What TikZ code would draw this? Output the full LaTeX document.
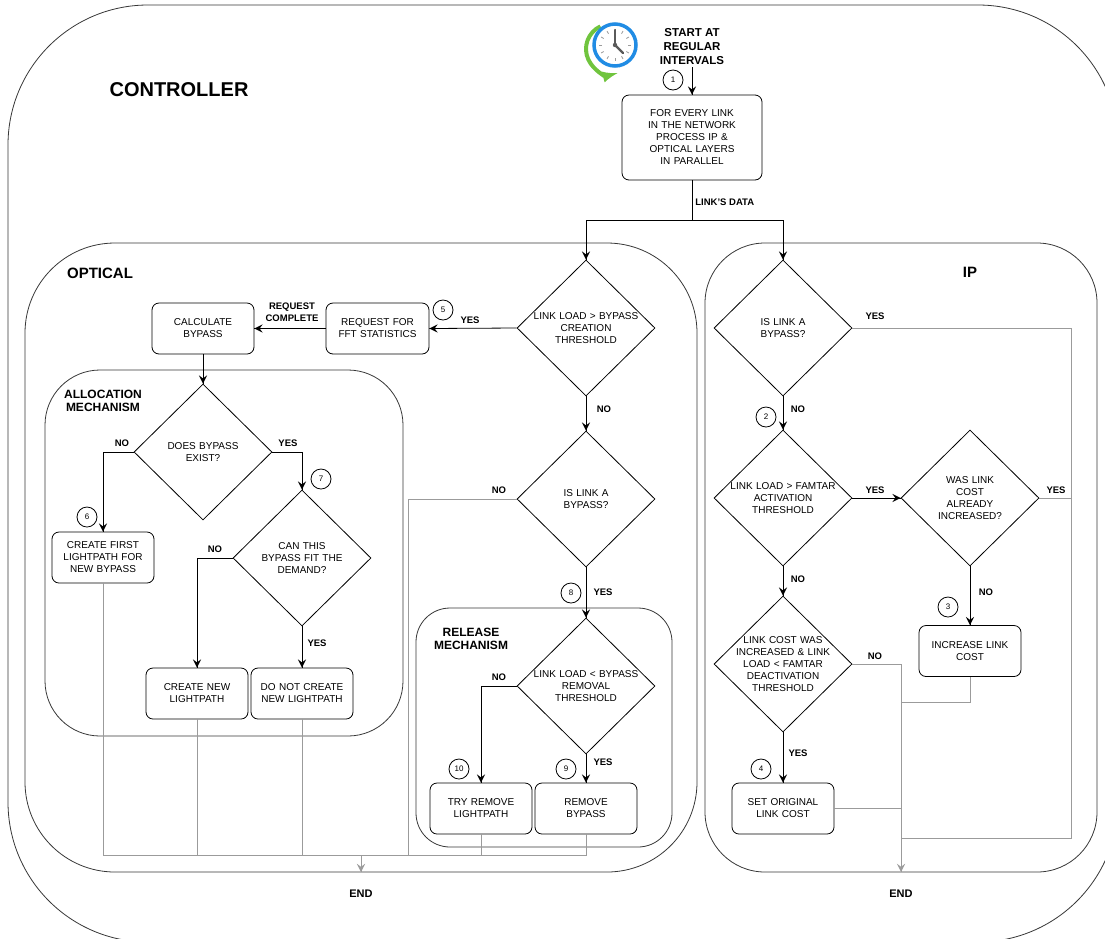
\documentclass[tikz,border=0pt]{standalone}
\usepackage{fontspec}
\setmainfont{Liberation Sans}
\usepackage{tikz}
\usetikzlibrary{arrows,decorations.markings,shapes.geometric}
\definecolor{endgray}{RGB}{155,155,155}
\definecolor{framegray}{RGB}{55,55,55}
\definecolor{clockblue}{RGB}{33,140,228}
\definecolor{clockgreen}{RGB}{112,196,62}
\definecolor{handgray}{RGB}{90,90,90}
\tikzstyle{proc} = [rectangle, rounded corners=7, minimum width=102, minimum height=51, text width=100, inner sep=0, align=center, draw=black, fill=white, font=\fontsize{10}{12}\selectfont]
\tikzstyle{decision} = [diamond, minimum width=138, minimum height=136, text width=106, inner sep=-12, align=center, draw=black, fill=white, font=\fontsize{10}{12}\selectfont]
\tikzstyle{numc} = [circle, minimum size=20, inner sep=0, draw=black, fill=white, font=\fontsize{8}{9}\selectfont]
\tikzstyle{lbl} = [inner sep=0, align=center, font=\bfseries\fontsize{9.5}{12}\selectfont]
\tikzstyle{grouptitle} = [inner sep=0, align=center, font=\bfseries\fontsize{15}{18}\selectfont]
\tikzstyle{subtitle} = [inner sep=0, align=center, font=\bfseries\fontsize{12}{13}\selectfont]
\tikzstyle{grpframe} = [draw=framegray, line width=0.8]
\tikzstyle{endline} = [color=endgray, line width=0.8]

\begin{document}
\begin{tikzpicture}[x=1pt, y=-1pt, line width=0.8pt, node distance=105]
    \tikzset{myptr/.style={decoration={markings,mark=at position 1 with %
    {\arrow[scale=2,>=stealth]{>}}},postaction={decorate}}}
    \tikzset{endptr/.style={endline, myptr}}
    \clip (0,0) rectangle (1105,938);

    % controller
    \draw[grpframe, rounded corners=140] (8,5) rectangle (1118,942);
    \node[grouptitle, font=\bfseries\fontsize{20}{24}\selectfont] (controller) at (179,90) {CONTROLLER};

    % clock
    \coordinate (clk) at (615,45);
    \draw[clockgreen, line width=4, -latex] (611,49) ++(-115:25) arc[start angle=-115, end angle=-285, radius=25];
    \draw[clockblue, line width=3.5, fill=white] (clk) circle (21);
    \foreach \a in {0,30,...,330}
        \draw[handgray!60, line width=0.8] (clk) ++(\a:13) -- ++(\a:3);
    \draw[handgray, line width=2.2, line cap=round] (clk) -- ++(0,-15);
    \draw[handgray, line width=2.2, line cap=round] (clk) -- ++(8,8);
    \fill[handgray] (clk) circle (2.2);

    \node[lbl, font=\bfseries\fontsize{11.5}{14}\selectfont, inner sep=2] (start) at (692,47) {START AT\\REGULAR\\INTERVALS};
    \node (every) [proc, minimum width=140, minimum height=85, text width=130] at (692,137.5) {FOR EVERY LINK\\IN THE NETWORK\\PROCESS IP \&\\OPTICAL LAYERS\\IN PARALLEL};
    \coordinate (split) at (692,220);
    \node[lbl, anchor=west] (linkdata) at (695,202) {LINK'S DATA};

    % optical
    \draw[grpframe, rounded corners=90] (25,243) rectangle (697,872);
    \node[grouptitle] (optical) at (100,273) {OPTICAL};
    \draw[grpframe, rounded corners=55] (45,370) rectangle (403,736);
    \node[subtitle] (alloc) at (103,401) {ALLOCATION\\MECHANISM};
    \draw[grpframe, rounded corners=34] (416,608) rectangle (672,847);
    \node[subtitle] (release) at (471,639) {RELEASE\\MECHANISM};

    \node (bycreate) [decision] at (586,328) {LINK LOAD > BYPASS\\CREATION\\THRESHOLD};
    \node (fftreq) [proc, minimum width=103] at (377.5,328.5) {REQUEST FOR\\FFT STATISTICS};
    \node (calcbyp) [proc] at (203,328.5) {CALCULATE\\BYPASS};
    \node (byexist) [decision] at (203,452) {DOES BYPASS\\EXIST?};
    \node (firstlp) [proc] at (103,557.5) {CREATE FIRST\\LIGHTPATH FOR\\NEW BYPASS};
    \node (canfit) [decision] at (302,558) {CAN THIS\\BYPASS FIT THE\\DEMAND?};
    \node (newlp) [proc] at (197,693.5) {CREATE NEW\\LIGHTPATH};
    \node (nonewlp) [proc, right of=newlp] {DO NOT CREATE\\NEW LIGHTPATH};
    \node (isbyp) [decision] at (586,499) {IS LINK A\\BYPASS?};
    \node (byremove) [decision] at (586,686) {LINK LOAD < BYPASS\\REMOVAL\\THRESHOLD};
    \node (trylp) [proc] at (481,808.5) {TRY REMOVE\\LIGHTPATH};
    \node (rmbyp) [proc, right of=trylp] {REMOVE\\BYPASS};

    \coordinate (optjoin) at (408,855);
    \coordinate (optbus) at (361,855);
    \coordinate (optend) at (361,872);
    \node[lbl, font=\bfseries\fontsize{11}{13}\selectfont] (optendlbl) at (361,894) {END};

    % ip
    \draw[grpframe, rounded corners=60] (705,243) rectangle (1097,872);
    \node[grouptitle] (ip) at (970,272) {IP};

    \node (ipbyp) [decision] at (783,328) {IS LINK A\\BYPASS?};
    \node (famact) [decision] at (783,498) {LINK LOAD > FAMTAR\\ACTIVATION\\THRESHOLD};
    \node (wascost) [decision] at (970,498) {WAS LINK\\COST\\ALREADY\\INCREASED?};
    \node (inccost) [proc] at (970,651) {INCREASE LINK\\COST};
    \node (famdeact) [decision] at (783,664) {LINK COST WAS\\INCREASED \& LINK\\LOAD < FAMTAR\\DEACTIVATION\\THRESHOLD};
    \node (setcost) [proc] at (783,808.5) {SET ORIGINAL\\LINK COST};

    \coordinate (iprail) at (1071,838);
    \coordinate (ipjoin) at (901,838);
    \coordinate (ipinc) at (901,702);
    \coordinate (ipend) at (901,872);
    \node[lbl, font=\bfseries\fontsize{11}{13}\selectfont] (ipendlbl) at (901,894) {END};

    % step numbers
    \node[numc] (c1) at (673,80) {1};
    \node[numc] (c2) at (766,417) {2};
    \node[numc] (c3) at (948,607) {3};
    \node[numc] (c4) at (761,769) {4};
    \node[numc] (c5) at (443,310) {5};
    \node[numc] (c6) at (87,517) {6};
    \node[numc] (c7) at (321,479) {7};
    \node[numc] (c8) at (571,593) {8};
    \node[numc] (c9) at (566,769) {9};
    \node[numc] (c10) at (459,769) {10};

    % gray lines to the end
    \draw[endline] (firstlp.south) |- (optbus);
    \draw[endline] (newlp.south) |- (optbus);
    \draw[endline] (nonewlp.south) |- (optbus);
    \draw[endline] (isbyp.west) -| (optjoin) -- (optbus);
    \draw[endline] (trylp.south) |- (optbus);
    \draw[endline] (rmbyp.south) |- (optbus);
    \draw[endptr] (optbus) -- (optend);

    \draw[endline] (ipbyp.east) -| (iprail) -- (ipjoin);
    \draw[endline] (wascost.east) -- (wascost.east -| iprail);
    \draw[endline] (inccost.south) |- (ipinc);
    \draw[endline] (setcost.east) -- (setcost.east -| ipend);
    \draw[endptr] (famdeact.east) -| (ipend);

    % flow
    \draw[myptr] (start.south) -- (every.north);
    \draw (every.south) -- (split);
    \draw[myptr] (split) -| (bycreate.north);
    \draw[myptr] (split) -| (ipbyp.north);

    \draw[myptr] (bycreate.west) -- (fftreq.east);
    \draw[myptr] (fftreq.west) -- (calcbyp.east);
    \draw[myptr] (calcbyp.south) -- (byexist.north);
    \draw[myptr] (byexist.west) -| (firstlp.north);
    \draw[myptr] (byexist.east) -| (canfit.north);
    \draw[myptr] (canfit.west) -| (newlp.north);
    \draw[myptr] (canfit.south) -- (nonewlp.north);
    \draw[myptr] (bycreate.south) -- (isbyp.north);
    \draw[myptr] (isbyp.south) -- (byremove.north);
    \draw[myptr] (byremove.west) -| (trylp.north);
    \draw[myptr] (byremove.south) -- (rmbyp.north);

    \draw[myptr] (ipbyp.south) -- (famact.north);
    \draw[myptr] (famact.east) -- (wascost.west);
    \draw[myptr] (wascost.south) -- (inccost.north);
    \draw[myptr] (famact.south) -- (famdeact.north);
    \draw[myptr] (famdeact.south) -- (setcost.north);

    % labels
    \node[lbl] (l_yes5) at (470,320) {YES};
    \node[lbl] (l_done) at (292,312) {REQUEST\\COMPLETE};
    \node[lbl] (l_no6) at (122,443) {NO};
    \node[lbl] (l_yes7) at (288,443) {YES};
    \node[lbl] (l_nonew) at (215,549) {NO};
    \node[lbl] (l_yesfit) at (317,643) {YES};
    \node[lbl] (l_nocreate) at (604,409) {NO};
    \node[lbl] (l_nobyp) at (499,490) {NO};
    \node[lbl] (l_yes8) at (603,592) {YES};
    \node[lbl] (l_no10) at (499,677) {NO};
    \node[lbl] (l_yes9) at (603,762) {YES};
    \node[lbl] (l_ipyes) at (875,316) {YES};
    \node[lbl] (l_no2) at (798,409) {NO};
    \node[lbl] (l_actyes) at (875,490) {YES};
    \node[lbl] (l_costyes) at (1056,490) {YES};
    \node[lbl] (l_no3) at (986,592) {NO};
    \node[lbl] (l_actno) at (798,579) {NO};
    \node[lbl] (l_deactno) at (875,656) {NO};
    \node[lbl] (l_yes4) at (798,753) {YES};
\end{tikzpicture}
\end{document}
